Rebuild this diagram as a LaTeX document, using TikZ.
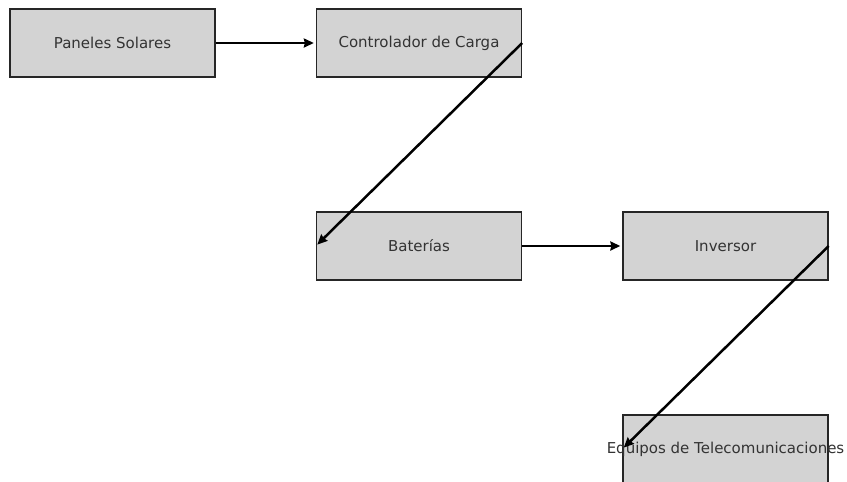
\documentclass[tikz,border=0pt]{standalone}
\usepackage{fontspec}
\setmainfont{DejaVu Sans}
\usetikzlibrary{arrows.meta}
\definecolor{boxfill}{HTML}{D3D3D3}
\definecolor{txt}{HTML}{333333}
\begin{document}
\begin{tikzpicture}[x=1pt,y=-1pt,
  blk/.style={draw=black!85, line width=1.3pt, fill=boxfill, rectangle,
    minimum width=205pt, minimum height=68pt, inner sep=0pt,
    text=txt, font=\fontsize{15}{18}\selectfont},
  conn/.style={line width=2.5pt, -{Stealth[length=10pt,width=9pt,inset=1pt]}, shorten >=2pt}]
\useasboundingbox (0,0) rectangle (847,482);
\fill[white] (0,0) rectangle (847,482);
\node[blk] (pan) at (112.5,43) {Paneles Solares};
\node[blk] (ctl) at (419,43) {Controlador de Carga};
\node[blk] (bat) at (419,246) {Baterías};
\node[blk] (inv) at (725.5,246) {Inversor};
\node[blk] (equ) at (725.5,449) {\makebox[0pt]{Equipos de Telecomunicaciones}};
\draw[conn] (pan.east) -- (ctl.west);
\draw[conn] (ctl.east) -- (bat.west);
\draw[conn] (bat.east) -- (inv.west);
\draw[conn] (inv.east) -- (equ.west);
\end{tikzpicture}
\end{document}
